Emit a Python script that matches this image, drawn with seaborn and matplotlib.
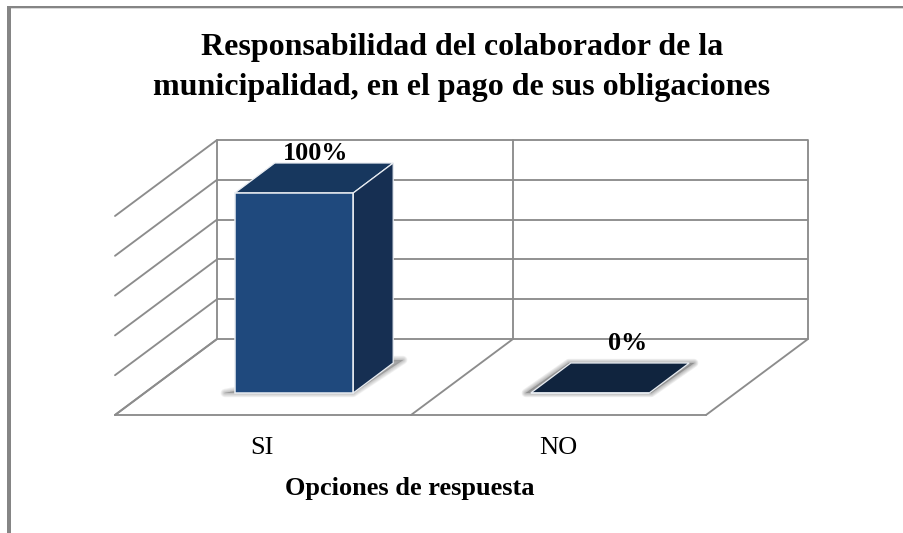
import matplotlib
matplotlib.use("Agg")
import matplotlib.pyplot as plt
import seaborn as sns
from matplotlib.patches import Polygon, Rectangle
from matplotlib.transforms import ScaledTranslation

categories = ["SI", "NO"]
values = [100, 0]
value_labels = ["100%", "0%"]
title_lines = ["Responsabilidad del colaborador de la",
               "municipalidad, en el pago de sus obligaciones"]
x_title = "Opciones de respuesta"
grid_steps = [0, 1, 2, 3, 4, 5]

W, H = 904, 533
FRONT, TOP, SIDE, FLAT = "#1F497D", "#17375E", "#162F52", "#10243E"
GRID = "#8C8C8C"
SERIF = "Liberation Serif"

sns.set_theme(style="white")
plt.rcParams["font.family"] = [SERIF, "DejaVu Sans"]
fig = plt.figure(figsize=(W / 100, H / 100), dpi=100, facecolor="white")

# Frame and faux-3D walls, in pixel coordinates
bg = fig.add_axes([0, 0, 1, 1], zorder=0)
bg.set_xlim(0, W)
bg.set_ylim(H, 0)
bg.axis("off")
bg.add_patch(Rectangle((7, 6), 4, H - 6, fc="#858585", ec="none"))
bg.add_patch(Rectangle((7, 6), W - 7, 2.2, fc="#858585", ec="none"))
bg.add_patch(Rectangle((11, 8.2), W - 11, 1, fc="#D9D9D9", ec="none"))

LW = 1.35
wall_l, wall_r, wall_b, wall_t = 217, 808, 339, 140
depth_x, depth_y = 102, 76
mid_x = 513
step = (wall_b - wall_t) / (len(grid_steps) - 1)
for g in grid_steps:
    y = wall_b - g * step
    bg.plot([wall_l, wall_r], [y, y], color=GRID, lw=LW, solid_capstyle="butt")
    bg.plot([wall_l, wall_l - depth_x], [y, y + depth_y], color=GRID, lw=LW)
for x in (wall_l, mid_x, wall_r):
    bg.plot([x, x], [wall_t, wall_b], color=GRID, lw=LW)
    bg.plot([x, x - depth_x], [wall_b, wall_b + depth_y], color=GRID, lw=LW)
bg.plot([wall_l - depth_x, wall_r - depth_x], [wall_b + depth_y] * 2, color=GRID, lw=LW)

# Data axes spanning the chart floor/walls
left, right, top, bottom = 115, 808, 140, 415
ax = fig.add_axes([left / W, 1 - bottom / H, (right - left) / W, (bottom - top) / H], zorder=1)
ax.patch.set_alpha(0)
px_x, px_y = 296.0, 2.0      # pixels per category / per percent
c0, base = 294.0, 393.0

sns.barplot(x=categories, y=values, order=categories, color=FRONT, saturation=1,
            width=0.4, edgecolor="#E9EDF2", linewidth=1.1, ax=ax, zorder=5)
ax.set_xlim((left - c0) / px_x, (right - c0) / px_x)
ax.set_ylim((base - bottom) / px_y, (base - top) / px_y)

dx, dy = 40 / px_x, 30 / px_y
offsets_px = [(22, 39), (38, 49)]
top_colors = [TOP, FLAT]
for bar, v, lab, off, tc in zip(ax.patches, values, value_labels, offsets_px, top_colors):
    x0, x1 = bar.get_x(), bar.get_x() + bar.get_width()
    # soft floor shadow
    if v > 0:
        shadow = [(x0 - 10 / px_x, 0), (x1, 0), (x1 + dx + 10 / px_x, dy + 1.5), (x1 + dx, dy + 1.5)]
    else:
        shadow = [(x0 - 5 / px_x, 0), (x1 + 2 / px_x, 0), (x1 + dx + 5 / px_x, dy), (x0 + dx - 2 / px_x, dy)]
    for w in (6, 4.8, 3.6, 2.5, 1.5, 0.6):
        ax.add_patch(Polygon(shadow, closed=True, fc="#6E6E6E", ec="#6E6E6E", lw=w,
                             alpha=0.11 if v == 0 else 0.09, zorder=3, joinstyle="round"))
    # top and side faces built from the bar geometry
    ax.add_patch(Polygon([(x0, v), (x1, v), (x1 + dx, v + dy), (x0 + dx, v + dy)], closed=True,
                         fc=tc, ec="#E9EDF2", lw=0.9, zorder=4))
    if v > 0:
        ax.add_patch(Polygon([(x1, 0), (x1 + dx, dy), (x1 + dx, v + dy), (x1, v)], closed=True,
                             fc=SIDE, ec="#E9EDF2", lw=0.9, zorder=4))
    ax.annotate(lab, xy=(bar.get_x() + bar.get_width() / 2, v), xytext=(off[0], off[1]),
                textcoords="offset pixels", ha="center", va="center", fontsize=18.8,
                fontweight="bold", color="black", fontfamily=SERIF, zorder=10)

sns.despine(ax=ax, left=True, bottom=True)
ax.set_yticks([])
ax.set_ylabel("")
ax.set_xticks(range(len(categories)))
ax.set_xticklabels(categories)
ax.tick_params(axis="x", length=0, pad=16, labelsize=19, labelcolor="black")
shift = ScaledTranslation(-32 / 100, 0, fig.dpi_scale_trans)
for t in ax.get_xticklabels():
    t.set_transform(t.get_transform() + shift)
    t.set_fontfamily(SERIF)

ax.set_xlabel(x_title, fontsize=19, fontweight="bold", color="black", fontfamily=SERIF)
ax.xaxis.set_label_coords((410 - left) / (right - left), -(489 - bottom) / (bottom - top))
ax.xaxis.label.set_va("center")

fig.text(462 / W, 1 - 68 / H, "\n".join(title_lines), ha="center", va="center",
         fontsize=23, fontweight="bold", color="black", fontfamily=SERIF, linespacing=1.5)

fig.savefig("out.png", dpi=100, facecolor="white")
